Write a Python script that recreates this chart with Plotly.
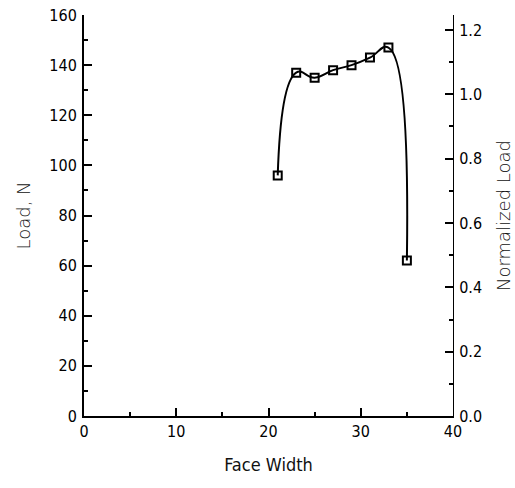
import plotly.graph_objects as go

face_width = [21, 23, 25, 27, 29, 31, 33, 35]
load_n = [96, 137, 135, 138, 140, 143, 147, 62]

x_ticks = [0, 10, 20, 30, 40]
y_ticks = [0, 20, 40, 60, 80, 100, 120, 140, 160]
y2_ticks = [0.0, 0.2, 0.4, 0.6, 0.8, 1.0, 1.2]
y2_max = 1.2466

narrow = "DejaVu Sans Condensed, Liberation Sans Narrow, sans-serif"
tick_font = dict(family=narrow, size=16, color="black")
title_font = dict(family="DejaVu Sans", size=18, color="#111111", weight=300)

fig = go.Figure()
fig.add_trace(go.Scatter(
    x=face_width, y=load_n, mode="lines+markers",
    line=dict(color="black", width=2, shape="spline", smoothing=1.3),
    marker=dict(symbol="square-open", size=8, color="black", line=dict(width=2)),
    showlegend=False,
))
fig.add_trace(go.Scatter(x=[None], y=[None], yaxis="y2", showlegend=False))

fig.update_layout(
    width=515, height=488,
    margin=dict(l=84, r=62, t=15, b=72, autoexpand=False),
    plot_bgcolor="white", paper_bgcolor="white",
    xaxis=dict(
        range=[0, 40], tickvals=x_ticks, ticks="inside", ticklen=8, tickwidth=2,
        tickcolor="black", showline=True, linecolor="black", linewidth=2,
        showgrid=False, zeroline=False, tickfont=tick_font, automargin=False,
        minor=dict(dtick=5, ticks="inside", ticklen=4, tickwidth=2, tickcolor="black", showgrid=False),
        title=dict(text="Face Width", font=dict(family=narrow, size=18, color="#111111"), standoff=18),
    ),
    yaxis=dict(
        range=[0, 160], tickvals=y_ticks, ticks="inside", ticklen=8, tickwidth=2,
        tickcolor="black", showline=True, linecolor="black", linewidth=2,
        showgrid=False, zeroline=False, tickfont=tick_font, ticklabelstandoff=2, automargin=False,
        minor=dict(dtick=10, ticks="inside", ticklen=4, tickwidth=2, tickcolor="black", showgrid=False),
        title=dict(text="Load, N", font=title_font, standoff=14),
    ),
    yaxis2=dict(
        range=[0, y2_max], tickvals=y2_ticks, tickformat=".1f", overlaying="y", side="right",
        ticks="inside", ticklen=8, tickwidth=2, tickcolor="black",
        showline=True, linecolor="black", linewidth=1, automargin=False,
        showgrid=False, zeroline=False, tickfont=tick_font, ticklabelstandoff=2,
        minor=dict(dtick=0.1, ticks="inside", ticklen=4, tickwidth=2, tickcolor="black", showgrid=False),
        title=dict(text="Normalized Load", font=title_font, standoff=16),
    ),
)

fig.write_html("out.html")
